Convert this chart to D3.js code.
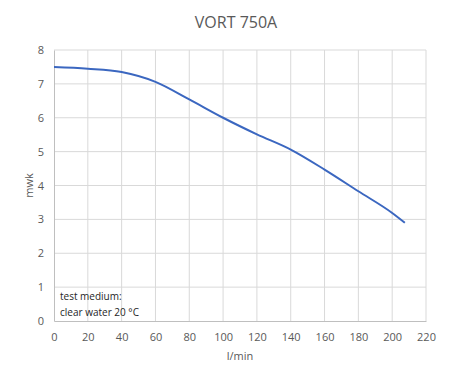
<!DOCTYPE html>
<html>
<head>
<meta charset="utf-8">
<script src="https://cdn.jsdelivr.net/npm/d3@7"></script>
<style>
  body { margin: 0; background: #fff; }
  text { font-family: "Open Sans", "Liberation Sans", sans-serif; }
</style>
</head>
<body>
<div id="chart"></div>
<script>
// Data
const flow = [0, 20, 40, 60, 80, 100, 120, 140, 160, 180, 200, 207.5];
const head = [7.5, 7.45, 7.35, 7.06, 6.54, 6.0, 5.51, 5.06, 4.47, 3.83, 3.19, 2.9];
const xTicks = [0, 20, 40, 60, 80, 100, 120, 140, 160, 180, 200, 220];
const yTicks = [0, 1, 2, 3, 4, 5, 6, 7, 8];

const W = 471, H = 378;
const margin = {top: 50, right: 45, bottom: 57, left: 54};
const w = W - margin.left - margin.right;
const h = H - margin.top - margin.bottom;

const svg = d3.select("#chart").append("svg")
  .attr("width", W)
  .attr("height", H);

const g = svg.append("g").attr("transform", `translate(${margin.left},${margin.top})`);

const x = d3.scaleLinear().domain([0, 220]).range([0, w]);
const y = d3.scaleLinear().domain([0, 8]).range([h, 0]);

// Gridlines
g.selectAll("line.vg").data(xTicks.slice(1)).enter().append("line")
  .attr("x1", d => x(d)).attr("x2", d => x(d))
  .attr("y1", 0).attr("y2", h)
  .attr("stroke", "#d9d9d9").attr("stroke-width", 1);
g.selectAll("line.hg").data(yTicks.slice(1)).enter().append("line")
  .attr("x1", 0).attr("x2", w)
  .attr("y1", d => y(d)).attr("y2", d => y(d))
  .attr("stroke", "#d9d9d9").attr("stroke-width", 1);

// Axes
const xAxis = g.append("g")
  .attr("transform", `translate(0,${h})`)
  .call(d3.axisBottom(x).tickValues(xTicks).tickSize(0).tickPadding(12));
const yAxis = g.append("g")
  .call(d3.axisLeft(y).tickValues(yTicks).tickSize(0).tickPadding(10));
[xAxis, yAxis].forEach(a => {
  a.select(".domain").attr("stroke", "#bfbfbf");
  a.selectAll("text").attr("fill", "#595959").attr("font-size", "11px");
});

// Curve
const pts = flow.map((f, i) => [f, head[i]]);
g.append("path")
  .datum(pts)
  .attr("fill", "none")
  .attr("stroke", "#3b67c0")
  .attr("stroke-width", 2)
  .attr("d", d3.line().x(d => x(d[0])).y(d => y(d[1])).curve(d3.curveMonotoneX));

// Title
svg.append("text")
  .attr("x", 236).attr("y", 28)
  .attr("text-anchor", "middle")
  .attr("font-size", "16px")
  .attr("fill", "#595959")
  .text("VORT 750A");

// Axis titles
svg.append("text")
  .attr("x", margin.left + w / 2).attr("y", 360)
  .attr("text-anchor", "middle")
  .attr("font-size", "11px")
  .attr("fill", "#595959")
  .text("l/min");
svg.append("text")
  .attr("transform", `translate(33,${margin.top + h / 2}) rotate(-90)`)
  .attr("text-anchor", "middle")
  .attr("font-size", "11px")
  .attr("fill", "#595959")
  .text("mwk");

// Note
const note = g.append("text")
  .attr("font-size", "10px")
  .attr("fill", "#262626");
note.append("tspan").attr("x", 6).attr("y", y(1) + 13).text("test medium:");
note.append("tspan").attr("x", 6).attr("y", y(1) + 29).text("clear water 20 °C");
</script>
</body>
</html>
